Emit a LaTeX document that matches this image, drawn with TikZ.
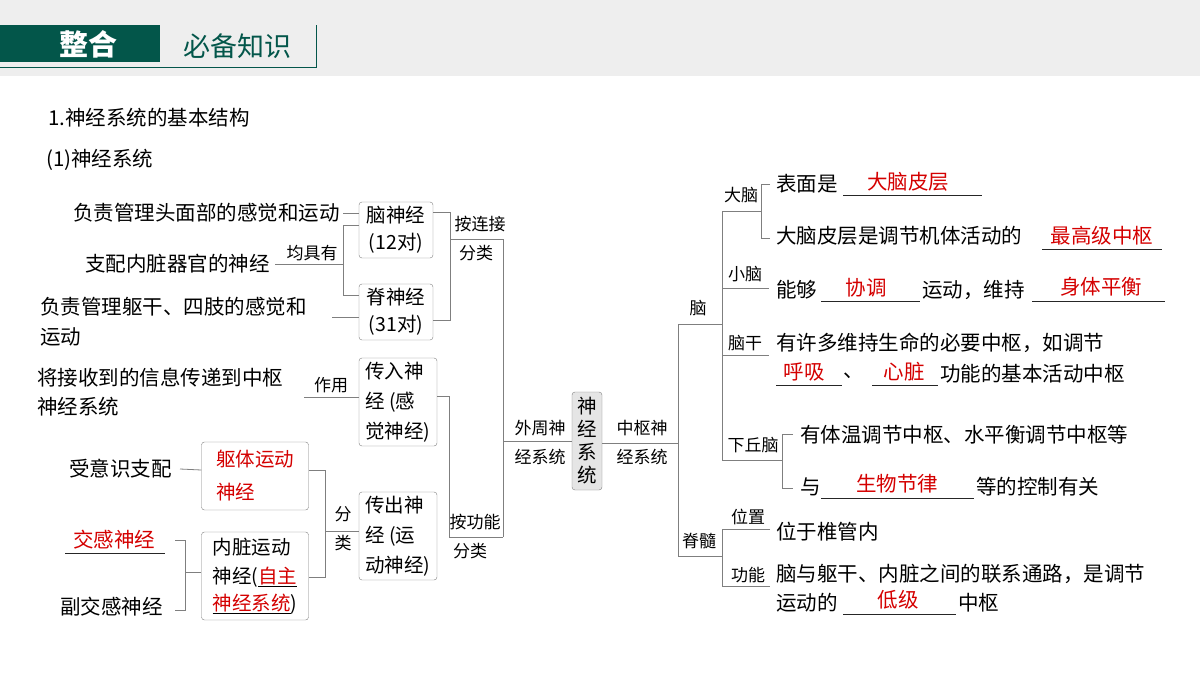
\documentclass[tikz,border=0pt]{standalone}
\usepackage{fontspec}
\setmainfont{Noto Sans CJK SC}
\usetikzlibrary{positioning,calc}
\definecolor{deepgreen}{HTML}{03564A}
\definecolor{keyred}{HTML}{D40000}
\definecolor{linegray}{HTML}{7F7F7F}
\definecolor{bandgray}{HTML}{EEEEEE}
\begin{document}
\begin{tikzpicture}[x=1pt,y=-1pt,
    txt/.style={anchor=west,inner sep=0pt,font=\fontsize{20.5}{24}\selectfont},
    lbl/.style={inner sep=0pt,font=\fontsize{17}{20}\selectfont},
    ans/.style={inner sep=0pt,text=keyred,font=\fontsize{20.5}{24}\selectfont},
    box/.style={draw=linegray,rounded corners=3pt,fill=white,align=left,inner sep=3pt,
      font=\fontsize{19.5}{30}\selectfont},
    link/.style={draw=linegray,line width=0.8pt},
    blank/.style={draw=black!85,line width=0.7pt}]
\useasboundingbox (0,0) rectangle (1200,675);
% header band
\fill[bandgray] (0,0) rectangle (1200,76);
\fill[deepgreen] (0,25) rectangle (160,62);
\draw[deepgreen,line width=1pt] (0,67) -- (316,67) -- (316,25);
\node[text=white,font=\fontsize{29}{32}\selectfont\bfseries] (tagA) at (88,44) {整合};
\node[text=deepgreen,font=\fontsize{27}{30}\selectfont] (tagB) at (237,46) {必备知识};
% titles
\node[txt] (t1) at (48,118) {1.神经系统的基本结构};
\node[txt] (t2) at (46,160) {(1)神经系统};

% ---------- peripheral part ----------
\node[box,minimum width=30,minimum height=98,align=center,inner sep=1pt,fill=black!10,
  font=\fontsize{19.5}{23}\selectfont] (ns) at (587,441) {神\\经\\系\\统};

\node[box,minimum width=74,minimum height=56,align=center,font=\fontsize{19.5}{27}\selectfont] (cran) at (396,230) {脑神经\\(12对)};
\node[box,minimum width=74,minimum height=56,align=center,font=\fontsize{19.5}{27}\selectfont] (spin) at (396,312) {脊神经\\(31对)};
\node[box,minimum width=78,minimum height=88] (aff) at (398,402) {传入神\\经 (感\\觉神经)};
\node[box,minimum width=78,minimum height=88] (eff) at (398,536) {传出神\\经 (运\\动神经)};
\node[box,minimum width=107,minimum height=68,text=keyred,font=\fontsize{19.5}{33}\selectfont] (soma) at (255,476) {躯体运动\\神经};
\node[box,minimum width=107,minimum height=88,font=\fontsize{19.5}{29}\selectfont] (visc) at (255,576)
  {内脏运动\\神经(\underline{\textcolor{keyred}{自主}}\\[-2pt]\underline{\textcolor{keyred}{神经系统}})};

\node[txt,anchor=east] (d1) at (340,213) {负责管理头面部的感觉和运动};
\node[txt,anchor=east] (d2) at (270,264) {支配内脏器官的神经};
\node[txt] (d3) at (40,307) {负责管理躯干、四肢的感觉和};
\node[txt] (d3b) at (40,337) {运动};
\node[txt] (d4) at (37,378) {将接收到的信息传递到中枢};
\node[txt] (d4b) at (37,407) {神经系统};
\node[txt,anchor=east] (d5) at (172,469) {受意识支配};
\node[ans] (symp) at (114,540) {交感神经};
\node[txt] (para) at (60,607) {副交感神经};
\draw[blank] (65,553) -- (165,553);

\node[lbl] (l1) at (312,253) {均具有};
\node[lbl] (l2) at (331,385) {作用};
\node[lbl] (l3) at (480,224) {按连接};
\node[lbl] (l3b) at (476,253) {分类};
\node[lbl] (l4) at (475,522) {按功能};
\node[lbl] (l4b) at (470,551) {分类};
\node[lbl] (l5) at (343,514) {分};
\node[lbl] (l5b) at (343,543) {类};
\node[lbl] (l6) at (540,428) {外周神};
\node[lbl] (l6b) at (540,457) {经系统};

\draw[link] (d1.east) ++(3,0) -- (cran.west |- d1.east);
\draw[link] (d2.east) ++(5,0) -- (343,264);
\draw[link] (cran.west |- 0,225) -| (343,295) -- (spin.west |- 0,295);
\draw[link] (332,317) -- (spin.west |- 0,317);
\draw[link] (304,397) -- (aff.west |- 0,397);
\draw[link] (cran.east |- 0,212) -| (450,320) -- (spin.east |- 0,320);
\draw[link] (450,239) -| (503,537);
\draw[link] (503,441) -- (ns.west |- 0,441);
\draw[link] (aff.east |- 0,396) -| (449,537) -- (503,537);
\draw[link] (d5.east) ++(8,0) -- (soma.west |- 0,470);
\draw[link] (soma.east |- 0,470) -| (325,577) -- (visc.east |- 0,577);
\draw[link] (325,531) -- (eff.west |- 0,531);
\draw[link] (175,540) -| (185,610) -- (175,610);
\draw[link] (185,572) -- (visc.west |- 0,572);

% ---------- central part ----------
\node[lbl] (c1) at (642,428) {中枢神};
\node[lbl] (c1b) at (642,457) {经系统};
\node[lbl] (br) at (698,308) {脑};
\node[lbl] (sc) at (699,541) {脊髓};
\node[lbl] (cb) at (741,195) {大脑};
\node[lbl] (cbl) at (745,274) {小脑};
\node[lbl] (bs) at (745,343) {脑干};
\node[lbl] (hyp) at (753,445) {下丘脑};
\node[lbl] (pos) at (748,517) {位置};
\node[lbl] (fun) at (748,575) {功能};

\draw[link] (ns.east |- 0,443) -- (678,443);
\draw[link] (722,324) -| (678,556) -- (722,556);
\draw[link] (770,529) -| (722,586) -- (770,586);
\draw[link] (761,211) -| (722,460) -- (782,460);
\draw[link] (722,288) -- (769,288);
\draw[link] (722,355) -- (769,355);
\draw[link] (770,184) -| (761,238) -- (770,238);
\draw[link] (793,434) -| (782,488) -- (793,488);

\node[txt] (r1) at (776,184) {表面是};
\node[ans] (a1) at (908,182) {大脑皮层};
\draw[blank] (843,195) -- (982,195);
\node[txt] (r2) at (776,236) {大脑皮层是调节机体活动的};
\node[ans] (a2) at (1102,236) {最高级中枢};
\draw[blank] (1042,249) -- (1162,249);
\node[txt] (r3) at (776,290) {能够};
\node[ans] (a3) at (866,288) {协调};
\draw[blank] (821,301) -- (920,301);
\node[txt] (r3b) at (922,290) {运动，维持};
\node[ans] (a4) at (1101,287) {身体平衡};
\draw[blank] (1032,301) -- (1165,301);
\node[txt] (r4) at (776,343) {有许多维持生命的必要中枢，如调节};
\node[ans] (a5) at (804,372) {呼吸};
\draw[blank] (776,385) -- (842,385);
\node[txt] (r4b) at (843,376) {、};
\node[ans] (a6) at (904,372) {心脏};
\draw[blank] (872,385) -- (938,385);
\node[txt] (r4c) at (940,374) {功能的基本活动中枢};
\node[txt] (r5) at (800,435) {有体温调节中枢、水平衡调节中枢等};
\node[txt] (r6) at (800,487) {与};
\node[ans] (a7) at (897,484) {生物节律};
\draw[blank] (821,498) -- (974,498);
\node[txt] (r6b) at (976,487) {等的控制有关};
\node[txt] (r7) at (776,532) {位于椎管内};
\node[txt] (r8) at (776,574) {脑与躯干、内脏之间的联系通路，是调节};
\node[txt] (r8b) at (776,603) {运动的};
\node[ans] (a8) at (898,600) {低级};
\draw[blank] (843,614) -- (956,614);
\node[txt] (r8c) at (958,603) {中枢};
\end{tikzpicture}
\end{document}
